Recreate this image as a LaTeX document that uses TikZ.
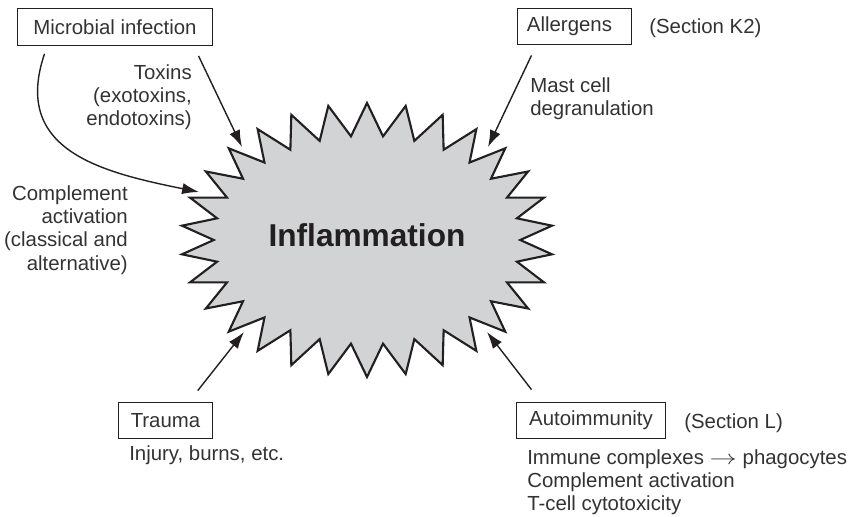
\documentclass[tikz,border=0pt]{standalone}
\usepackage{fontspec}
\usepackage{graphicx}
\setmainfont{Liberation Sans}
\usetikzlibrary{positioning,calc,shapes.symbols,arrows.meta}

\definecolor{burstgray}{RGB}{209,211,212}
\definecolor{inkgray}{RGB}{50,50,50}
\definecolor{lineblack}{RGB}{35,31,32}

\begin{document}
\begin{tikzpicture}[x=0.025cm, y=0.025cm, font=\fontsize{14.5}{16.5}\selectfont]

\tikzstyle{box} = [rectangle, draw=lineblack, line width=0.7pt, minimum height=0.92cm, inner xsep=0.3cm, text=inkgray]
\tikzstyle{note} = [inner sep=0pt, text=inkgray]
\tikzstyle{burst} = [starburst, starburst points=30, random starburst=0, starburst point height=0.82cm, draw=lineblack, line width=1.5pt, fill=burstgray, minimum width=9.3cm, minimum height=6.85cm, text depth=6.8pt, font=\fontsize{22.5}{26}\selectfont\bfseries, text=lineblack]
\tikzstyle{arrow} = [line width=1pt, draw=lineblack, -{Latex[length=12pt, width=8pt]}]

\useasboundingbox (0,0) rectangle (850,-517);

% Define nodes
\node (infl) [burst] at (367,-240) {Inflammation};
\node (micro) [box, minimum width=4.85cm] at (115,-27) {Microbial infection};
\node (allerg) [box, text width=2.375cm, inner xsep=0.225cm, align=left] at (574.5,-26.5) {Allergens};
\node (trauma) [box, minimum width=2.325cm] at (165.5,-420.5) {Trauma};
\node (auto) [box, minimum width=3.7cm] at (591,-420.5) {Autoimmunity};

\node (sectk) [note, anchor=base west] at (649,-33.3) {(Section K2)};
\node (sectl) [note, anchor=base west] at (684,-428.3) {(Section L)};
\node (toxins) [note, align=right, anchor=east] at (192,-97) {Toxins\\(exotoxins,\\endotoxins)};
\node (compl) [note, align=right, anchor=east] at (128,-230) {Complement\\activation\\(classical and\\alternative)};
\node (mast) [note, align=left, anchor=west] at (530,-98.5) {Mast cell\\degranulation};
\node (injury) [note, anchor=base west] at (129,-460.5) {Injury, burns, etc.};
\node (autotxt) [note, align=left, anchor=west] at (527,-482) {Immune complexes \scalebox{1.35}[1]{$\rightarrow$} phagocytes\\Complement activation\\T-cell cytotoxicity};

% Draw arrows
\draw [arrow] ($(micro.south east)+(-14,-10)$) -- ($(infl.center)+(-125,93)$);
\draw [arrow] ($(micro.south west)+(27,-8)$) .. controls (12,-150) and (100,-172) .. ($(infl.center)+(-168,48)$);
\draw [arrow] ($(allerg.south west)+(14,-10)$) -- ($(infl.center)+(121,93)$);
\draw [arrow] ($(trauma.north east)+(-15,11)$) -- ($(infl.center)+(-123,-92)$);
\draw [arrow] ($(auto.north west)+(15,12)$) -- ($(infl.center)+(120,-92)$);

\end{tikzpicture}
\end{document}
